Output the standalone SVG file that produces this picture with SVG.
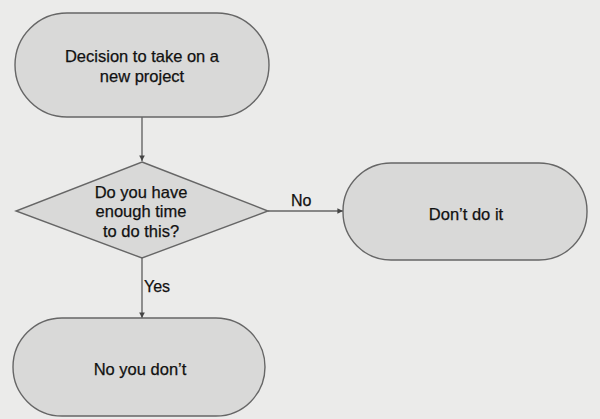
<svg xmlns="http://www.w3.org/2000/svg" width="600" height="419" viewBox="0 0 600 419">
<defs>
<style>
.node{fill:#d9d9d8;stroke:#666;stroke-width:1.4}
.t{font-family:"Liberation Sans",Arial,sans-serif;font-size:16.5px;fill:#111;text-anchor:middle;stroke:#111;stroke-width:0.25}
.lbl{font-family:"Liberation Sans",Arial,sans-serif;font-size:16px;fill:#111;stroke:#111;stroke-width:0.25}
.edge{stroke:#666;stroke-width:1.4;fill:none}
</style>
<marker id="arr" viewBox="0 0 6 6" refX="6" refY="3" markerWidth="4" markerHeight="4" orient="auto">
<path d="M0,0 L6,3 L0,6 z" fill="#444"/>
</marker>
</defs>
<rect width="600" height="419" fill="#ebebea"/>
<g id="connectors">
<line class="edge" x1="142" y1="117" x2="142" y2="161" marker-end="url(#arr)"/>
<line class="edge" x1="268" y1="211" x2="343" y2="211" marker-end="url(#arr)"/>
<line class="edge" x1="142" y1="258" x2="142" y2="318" marker-end="url(#arr)"/>
<text class="lbl" x="291" y="206">No</text>
<text class="lbl" x="144" y="292">Yes</text>
</g>
<g id="start">
<rect class="node" x="15" y="13" width="254" height="104" rx="52" ry="52"/>
<text class="t" x="142" y="62">Decision to take on a</text>
<text class="t" x="142" y="82">new project</text>
</g>
<g id="decision">
<polygon class="node" points="142,162 268,211 142,258 16,211"/>
<text class="t" x="141" y="198">Do you have</text>
<text class="t" x="141" y="217">enough time</text>
<text class="t" x="141" y="237">to do this?</text>
</g>
<g id="dont">
<rect class="node" x="343" y="163" width="244" height="97" rx="48" ry="48"/>
<text class="t" x="466" y="220">Don’t do it</text>
</g>
<g id="noyoudont">
<rect class="node" x="13" y="318" width="252" height="98" rx="49" ry="49"/>
<text class="t" x="140" y="375">No you don’t</text>
</g>
</svg>
